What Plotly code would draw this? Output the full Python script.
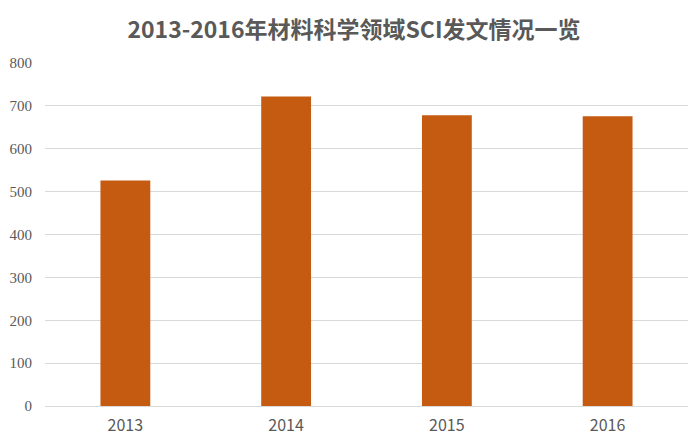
import plotly.graph_objects as go

years = ["2013", "2014", "2015", "2016"]
counts = [526, 722, 678, 676]
y_ticks = [0, 100, 200, 300, 400, 500, 600, 700, 800]

fig = go.Figure(go.Bar(x=years, y=counts, marker=dict(color="#C55A11", line=dict(width=0))))

# page body has an 8px margin, so the figure is sized/offset to compensate
fig.update_layout(
    width=692, height=437,
    margin=dict(l=37, r=12, t=55, b=39, autoexpand=False),
    paper_bgcolor="white", plot_bgcolor="white",
    bargap=0.69,
    showlegend=False,
    title=dict(text="<b>2013-2016年材料科学领域SCI发文情况一览</b>",
               x=0.5, xanchor="center", y=0.95, yanchor="middle",
               font=dict(family="Noto Sans CJK SC", size=23, color="#595959")),
)
fig.update_yaxes(range=[0, 800], tickvals=y_ticks, showgrid=True, gridcolor="#D9D9D9",
                 gridwidth=1, zeroline=False, showline=False, ticks="",
                 ticklabelstandoff=12, automargin=False,
                 tickfont=dict(family="Liberation Serif", size=15, color="#595959"))
fig.update_xaxes(showline=True, linecolor="#D9D9D9", linewidth=1, ticks="",
                 ticklabelstandoff=5, automargin=False,
                 tickfont=dict(family="Noto Sans CJK SC", size=16, color="#595959"))

fig.write_html("out.html")
